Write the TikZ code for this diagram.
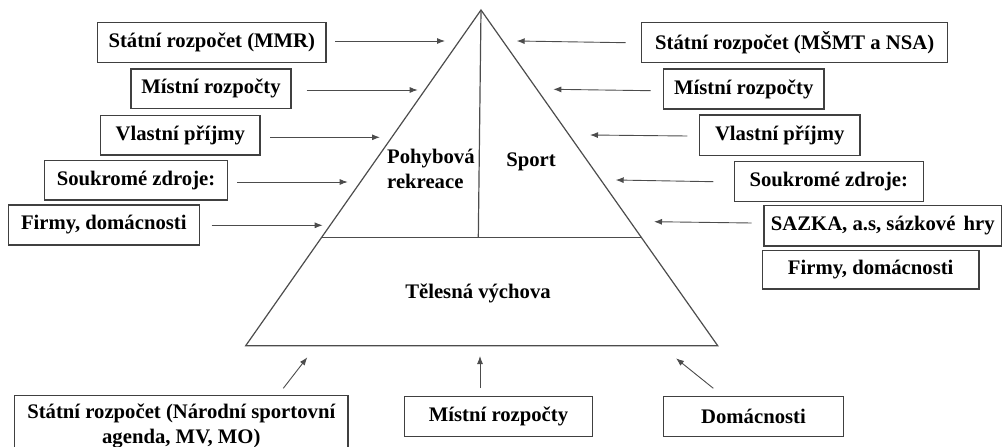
\documentclass[tikz,border=0pt]{standalone}
\usepackage{fontspec}
\setmainfont{Liberation Serif}
\usetikzlibrary{arrows.meta}
\begin{document}
\begin{tikzpicture}[x=1pt,y=-1pt,
  every node/.style={font=\fontsize{20.7}{25}\selectfont\bfseries, text=black},
  fbox/.style={draw=black!75, line width=1.3pt, inner sep=0pt, align=center},
  arr/.style={draw=black!70, line width=0.9pt, -{Latex[length=8pt,width=6pt]}},
  pyr/.style={draw=black!70, line width=1.2pt},
  lbl/.style={inner sep=0pt}]
\useasboundingbox (0,0) rectangle (1004,447);
\clip (0,0) rectangle (1004,447);
% pyramid
\coordinate (apex) at (481,10);
\coordinate (bl) at (245.7,345.7);
\coordinate (br) at (717.7,345.7);
\coordinate (ml) at (321.6,237.7);
\coordinate (mr) at (641.3,237.7);
\coordinate (mm) at (478.3,237.7);
\draw[pyr] (apex) -- (bl) -- (br) -- cycle;
\draw[pyr] (ml) -- (mr);
\draw[pyr] (apex) -- (mm);
\node[lbl, anchor=west, align=left] (pohyb) at (387,169) {Pohybová\\rekreace};
\node[lbl] (sport) at (531,162) {Sport};
\node[lbl] (telv) at (478,293) {Tělesná výchova};
% left boxes
\node[fbox, minimum width=228.3, minimum height=39.6] (L1) at (211.8,42.5) {Státní rozpočet (MMR)};
\node[fbox, minimum width=160, minimum height=39.7] (L2) at (211,88.8) {Místní rozpočty};
\node[fbox, minimum width=159.3, minimum height=39.7] (L3) at (180.3,135.2) {Vlastní příjmy};
\node[fbox, minimum width=183.4, minimum height=39.3] (L4) at (136,180.3) {Soukromé zdroje:};
\node[fbox, minimum width=191, minimum height=40] (L5) at (103.8,225) {Firmy, domácnosti};
% right boxes
\node[fbox, minimum width=306, minimum height=40] (R1) at (794.7,42.7) {Státní rozpočet (MŠMT a NSA)};
\node[fbox, minimum width=160.7, minimum height=40] (R2) at (743.7,89) {Místní rozpočty};
\node[fbox, minimum width=160.7, minimum height=40.3] (R3) at (779.7,135.2) {Vlastní příjmy};
\node[fbox, minimum width=189, minimum height=40] (R4) at (828.8,181.3) {Soukromé zdroje:};
\node[fbox, minimum width=237.7, minimum height=40.3] (R5) at (882.8,225.8) {SAZKA, a.s, sázkové\hspace{3pt} hry};
\node[fbox, minimum width=216.7, minimum height=38.3] (R6) at (870.7,269.8) {Firmy, domácnosti};
% bottom boxes
\node[fbox, minimum width=333.3, minimum height=60] (B1) at (181.3,425.7) {Státní rozpočet (Národní sportovní\\agenda, MV, MO)};
\node[fbox, minimum width=188.3, minimum height=40] (B2) at (498.5,416.7) {Místní rozpočty};
\node[fbox, minimum width=180.5, minimum height=40] (B3) at (753.5,416.7) {Domácnosti};
% arrow end points
\coordinate (l1s) at (335,41);    \coordinate (l1e) at (445,41);
\coordinate (l2s) at (306.7,90);  \coordinate (l2e) at (417.7,90);
\coordinate (l3s) at (270,137.3); \coordinate (l3e) at (380,137.3);
\coordinate (l4s) at (237,182);   \coordinate (l4e) at (347.7,182);
\coordinate (l5s) at (211.7,225.3); \coordinate (l5e) at (322.7,225.3);
\coordinate (r1s) at (625.7,42.7); \coordinate (r1e) at (516.7,41);
\coordinate (r2s) at (650.7,90.7); \coordinate (r2e) at (553.3,89.3);
\coordinate (r3s) at (687.3,136);  \coordinate (r3e) at (590,135);
\coordinate (r4s) at (713.3,181.7); \coordinate (r4e) at (615.7,180);
\coordinate (r5s) at (751.7,223);  \coordinate (r5e) at (654,221.7);
\coordinate (b1s) at (283.3,388.3); \coordinate (b1e) at (307.3,357.3);
\coordinate (b2s) at (480,388);    \coordinate (b2e) at (480,356);
\coordinate (b3s) at (713.3,388.3); \coordinate (b3e) at (676,358.3);
\foreach \a in {l1,l2,l3,l4,l5,r1,r2,r3,r4,r5,b1,b2,b3}
  \draw[arr] (\a s) -- (\a e);
\end{tikzpicture}
\end{document}
